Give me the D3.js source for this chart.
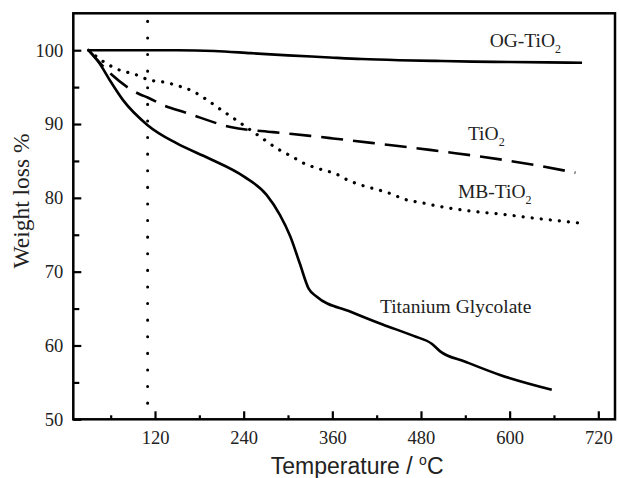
<!DOCTYPE html>
<html>
<head>
<meta charset="utf-8">
<script src="https://cdn.jsdelivr.net/npm/d3@7"></script>
<style>
  html, body { margin: 0; padding: 0; background: #fff; }
  svg { display: block; }
</style>
</head>
<body>
<svg id="chart" width="619" height="478"></svg>
<script>
// ---- data ----
const ogTemp = [30, 60, 100, 150, 200, 250, 300, 350, 400, 450, 500, 550, 600, 650, 698];
const ogVal  = [100, 100, 100, 100, 99.9, 99.6, 99.3, 99.05, 98.8, 98.65, 98.55, 98.45, 98.4, 98.35, 98.3];

const tiTemp = [30, 60, 100, 110, 130, 163, 222, 280, 330, 361, 425, 492, 515, 560, 637, 689];
const tiVal  = [100, 96.8, 94.0, 93.6, 92.6, 91.5, 89.6, 88.9, 88.4, 88.05, 87.3, 86.5, 86.2, 85.6, 84.4, 83.4];

const mbTemp = [30, 48, 75, 91, 111, 136, 147, 170, 190, 204, 226, 262, 285, 307, 321, 343, 366, 379, 400, 425, 438, 458, 483, 497, 519, 540, 556, 578, 637, 694];
const mbVal  = [100, 98.6, 97.2, 96.8, 96.0, 95.6, 95.3, 94.5, 93.3, 92.3, 90.8, 88.3, 86.7, 85.5, 84.7, 83.9, 83.2, 82.5, 81.7, 81.0, 80.6, 79.8, 79.3, 79.0, 78.6, 78.3, 78.1, 77.9, 77.2, 76.6];

const tgTemp = [30, 45, 59, 77, 110, 149, 194, 240, 271, 289, 303, 316, 328, 339, 384, 429, 470, 495, 506, 540, 587, 657];
const tgVal  = [100, 98.2, 95.9, 93.2, 89.85, 87.4, 85.3, 82.9, 80.4, 77.7, 74.8, 71.1, 67.7, 66.6, 64.6, 62.8, 61.3, 60.2, 59.2, 57.8, 56.0, 54.0];

const xTicks = [120, 240, 360, 480, 600, 720];
const xMinor = [60, 180, 300, 420, 540, 660];
const yTicks = [50, 60, 70, 80, 90, 100];
const yMinor = [55, 65, 75, 85, 95];
const markerTemp = 110;

const labels = [
  { main: "OG-TiO", sub: "2", t: 573, v: 100.47 },
  { main: "TiO", sub: "2", t: 543.5, v: 87.84 },
  { main: "MB-TiO", sub: "2", t: 530, v: 80.0 },
  { main: "Titanium Glycolate", sub: "", t: 424.5, v: 64.36 }
];

// ---- layout ----
const svg = d3.select("#chart");
const L = 73.3, R = 615, T = 13.3, B = 419.3;
const x = d3.scaleLinear().domain([9.4, 742.6]).range([L, R]);
const y = d3.scaleLinear().domain([50, 105]).range([B, T]);
const serif = "'Liberation Serif', 'Times New Roman', serif";
const sans = "'Liberation Sans', Arial, sans-serif";

// axes (ticks inward)
const xAxis = d3.axisBottom(x).tickValues(xTicks).tickSizeInner(-8).tickSizeOuter(0).tickPadding(12);
const gx = svg.append("g").attr("transform", `translate(0,${B})`).call(xAxis);
const xMinAxis = d3.axisBottom(x).tickValues(xMinor).tickSizeInner(-4).tickSizeOuter(0).tickFormat("");
const gxm = svg.append("g").attr("transform", `translate(0,${B})`).call(xMinAxis);

const yAxis = d3.axisLeft(y).tickValues(yTicks).tickSizeInner(-8).tickSizeOuter(0).tickPadding(10);
const gy = svg.append("g").attr("transform", `translate(${L},0)`).call(yAxis);
const yMinAxis = d3.axisLeft(y).tickValues(yMinor).tickSizeInner(-6).tickSizeOuter(0).tickFormat("");
const gym = svg.append("g").attr("transform", `translate(${L},0)`).call(yMinAxis);

[gx, gxm, gy, gym].forEach(g => {
  g.select(".domain").remove();
  g.selectAll(".tick line").attr("stroke", "#000").attr("stroke-width", 2.2);
  g.selectAll(".tick text").attr("fill", "#222").style("font-family", serif).style("font-size", "18.5px");
});

// frame
svg.append("rect").attr("x", L).attr("y", T).attr("width", R - L).attr("height", B - T)
  .attr("fill", "none").attr("stroke", "#000").attr("stroke-width", 2.5);

// vertical dotted marker
svg.append("line")
  .attr("x1", x(markerTemp)).attr("x2", x(markerTemp))
  .attr("y1", y(105)).attr("y2", y(50))
  .attr("stroke", "#000").attr("stroke-width", 3)
  .attr("stroke-dasharray", "0.1,16.5").attr("stroke-linecap", "round")
  .attr("stroke-dashoffset", -8);

// curves
const line = d3.line().x(d => x(d[0])).y(d => y(d[1])).curve(d3.curveMonotoneX);
function drawSeries(ts, vs, dash, width, cap) {
  const pts = ts.map((t, i) => [t, vs[i]]);
  svg.append("path").datum(pts)
    .attr("d", line)
    .attr("fill", "none").attr("stroke", "#000")
    .attr("stroke-width", width)
    .attr("stroke-linecap", cap)
    .attr("stroke-linejoin", "round")
    .attr("stroke-dasharray", dash);
}
drawSeries(ogTemp, ogVal, null, 2.6, "butt");
drawSeries(tiTemp, tiVal, "22,10", 2.6, "butt");
drawSeries(mbTemp, mbVal, "0.1,9", 3.2, "round");
drawSeries(tgTemp, tgVal, null, 2.6, "butt");

// labels
labels.forEach(lb => {
  const tx = svg.append("text")
    .attr("x", x(lb.t)).attr("y", y(lb.v))
    .attr("fill", "#222")
    .style("font-family", serif).style("font-size", "19.5px");
  tx.append("tspan").text(lb.main);
  if (lb.sub) {
    tx.append("tspan").attr("dy", 6).style("font-size", "12px").text(lb.sub);
  }
});

// axis titles
const xt = svg.append("text")
  .attr("x", (L + R) / 2 + 13).attr("y", 474)
  .attr("text-anchor", "middle")
  .attr("fill", "#222")
  .style("font-family", sans).style("font-size", "23px");
xt.append("tspan").text("Temperature / ");
xt.append("tspan").attr("dy", -9).style("font-size", "14px").text("o");
xt.append("tspan").attr("dy", 9).text("C");

svg.append("text")
  .attr("transform", `translate(29,${201}) rotate(-90)`)
  .attr("text-anchor", "middle")
  .attr("fill", "#222")
  .style("font-family", serif).style("font-size", "23.5px")
  .text("Weight loss %");
</script>
</body>
</html>
